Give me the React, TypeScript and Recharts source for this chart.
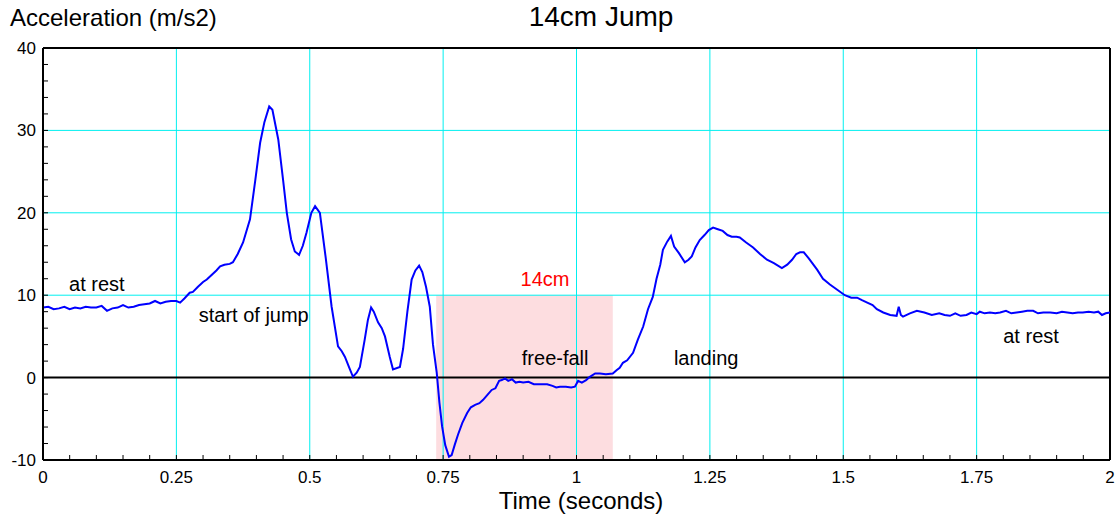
import React from "react";
import {
  LineChart,
  Line,
  XAxis,
  YAxis,
  ReferenceLine,
  ReferenceArea,
  ReferenceDot,
} from "recharts";

// time (s)
const times = [
  0, 0.01, 0.02, 0.03, 0.04, 0.05, 0.06, 0.07, 0.08, 0.09, 0.1, 0.11, 0.12, 0.13, 0.14, 0.15, 0.16, 0.17, 0.18, 0.19,
  0.2, 0.21, 0.22, 0.23, 0.24, 0.25, 0.257, 0.265, 0.275, 0.281, 0.29, 0.3, 0.307, 0.315, 0.325, 0.332, 0.34, 0.35,
  0.356, 0.365, 0.375, 0.388, 0.398, 0.407, 0.415, 0.424, 0.43, 0.441, 0.45, 0.457, 0.465, 0.472, 0.48, 0.487, 0.494,
  0.503, 0.51, 0.519, 0.53, 0.541, 0.553, 0.56, 0.566, 0.574, 0.581, 0.588, 0.594, 0.603, 0.609, 0.615, 0.62, 0.628,
  0.635, 0.641, 0.65, 0.656, 0.669, 0.675, 0.683, 0.691, 0.698, 0.705, 0.711, 0.718, 0.725, 0.731, 0.738, 0.743,
  0.748, 0.754, 0.761, 0.766, 0.772, 0.778, 0.786, 0.795, 0.802, 0.81, 0.818, 0.825, 0.833, 0.841, 0.848, 0.855,
  0.86, 0.866, 0.872, 0.879, 0.886, 0.893, 0.9, 0.91, 0.92, 0.932, 0.945, 0.955, 0.962, 0.969, 0.98, 0.99, 0.997,
  1.003, 1.01, 1.018, 1.025, 1.035, 1.044, 1.055, 1.068, 1.075, 1.081, 1.087, 1.095, 1.106, 1.115, 1.125, 1.134,
  1.143, 1.15, 1.157, 1.162, 1.17, 1.177, 1.183, 1.192, 1.203, 1.21, 1.216, 1.223, 1.231, 1.24, 1.248, 1.256, 1.265,
  1.274, 1.283, 1.291, 1.3, 1.306, 1.318, 1.331, 1.344, 1.357, 1.37, 1.385, 1.395, 1.404, 1.412, 1.419, 1.426, 1.435,
  1.451, 1.462, 1.475, 1.49, 1.503, 1.515, 1.526, 1.535, 1.545, 1.555, 1.563, 1.575, 1.588, 1.6, 1.604, 1.608, 1.612,
  1.625, 1.638, 1.652, 1.666, 1.68, 1.69, 1.7, 1.71, 1.72, 1.731, 1.74, 1.75, 1.756, 1.765, 1.775, 1.785, 1.794,
  1.805, 1.815, 1.825, 1.835, 1.845, 1.856, 1.865, 1.875, 1.888, 1.9, 1.91, 1.92, 1.93, 1.94, 1.949, 1.96, 1.97,
  1.978, 1.985, 1.992, 2.0,
];

// acceleration (m/s2)
const accel = [
  8.5, 8.6, 8.3, 8.4, 8.6, 8.3, 8.5, 8.4, 8.6, 8.5, 8.5, 8.7, 8.1, 8.4, 8.5, 8.8, 8.5, 8.6, 8.8, 8.9,
  9.0, 9.3, 9.0, 9.2, 9.3, 9.3, 9.1, 9.6, 10.3, 10.4, 11.0, 11.6, 11.9, 12.4, 13.0, 13.5, 13.7, 13.8,
  14.0, 15.0, 16.4, 19.2, 24.0, 28.5, 31.0, 32.9, 32.5, 28.9, 24.0, 20.0, 16.8, 15.3, 14.9, 16.0, 17.6,
  20.0, 20.8, 20.0, 14.5, 8.6, 3.8, 3.2, 2.5, 1.2, 0.1, 0.6, 1.3, 4.6, 7.0, 8.5, 8.0, 6.7,
  6.0, 5.0, 2.5, 1.0, 1.3, 3.5, 8.0, 11.9, 13.0, 13.6, 12.8, 11.0, 8.6, 4.0, 0.6, -3.0,
  -5.9, -8.2, -9.6, -9.4, -8.1, -6.9, -5.5, -4.3, -3.6, -3.3, -3.1, -2.7, -2.1, -1.5, -1.3, -0.4,
  -0.3, -0.1, -0.4, -0.2, -0.6, -0.5, -0.6, -0.5, -0.8, -0.8, -0.8, -1.0, -1.2, -1.1, -1.1, -1.2, -1.1,
  -0.4, -0.6, -0.3, 0.1, 0.5, 0.5, 0.4, 0.5, 0.9, 1.2, 1.8, 2.1, 3.0, 4.6, 6.2, 8.3,
  9.8, 12.0, 13.7, 15.5, 16.5, 17.2, 15.9, 15.1, 14.0, 14.3, 14.7, 15.8, 16.7, 17.3, 17.9, 18.2, 18.0,
  17.8, 17.3, 17.1, 17.1, 17.0, 16.4, 15.8, 15.0, 14.3, 13.9, 13.3, 13.7, 14.3, 15.0, 15.2, 15.2, 14.5,
  13.1, 12.0, 11.3, 10.6, 10.0, 9.7, 9.7, 9.4, 9.1, 8.8, 8.3, 7.9, 7.6, 7.5, 8.6, 7.6, 7.4,
  7.8, 8.1, 7.9, 7.6, 7.8, 7.6, 7.5, 7.8, 7.5, 7.6, 7.9, 7.7, 8.0, 7.8, 7.9, 7.8, 7.9,
  8.1, 7.8, 7.9, 8.0, 8.1, 8.1, 7.8, 7.9, 7.9, 7.8, 8.0, 7.9, 7.8, 7.9, 7.9, 8.0, 7.9,
  8.0, 7.6, 7.8, 7.9,
];

const xTicks = [
  0, 0.05, 0.1, 0.15, 0.2, 0.25, 0.3, 0.35, 0.4, 0.45, 0.5, 0.55, 0.6, 0.65, 0.7, 0.75, 0.8, 0.85, 0.9, 0.95, 1,
  1.05, 1.1, 1.15, 1.2, 1.25, 1.3, 1.35, 1.4, 1.45, 1.5, 1.55, 1.6, 1.65, 1.7, 1.75, 1.8, 1.85, 1.9, 1.95, 2,
];
const xLabels = [0, 0.25, 0.5, 0.75, 1, 1.25, 1.5, 1.75, 2];
const yTicks = [
  -10, -8, -6, -4, -2, 0, 2, 4, 6, 8, 10, 12, 14, 16, 18, 20, 22, 24, 26, 28, 30, 32, 34, 36, 38, 40,
];
const yLabels = [-10, 0, 10, 20, 30, 40];
const vGrid = [0.25, 0.5, 0.75, 1, 1.25, 1.5, 1.75];
const hGrid = [10, 20, 30];

// annotation text, placed in data coordinates
const notes = [
  { t: 0.101, a: 11.3, text: "at rest", color: "#000" },
  { t: 0.395, a: 7.6, text: "start of jump", color: "#000" },
  { t: 0.941, a: 12.0, text: "14cm", color: "#ff0000" },
  { t: 0.96, a: 2.4, text: "free-fall", color: "#000" },
  { t: 1.243, a: 2.4, text: "landing", color: "#000" },
  { t: 1.852, a: 5.0, text: "at rest", color: "#000" },
];

const data = times.map((t, i) => ({ t, a: accel[i] }));

const FONT = "'Liberation Sans', Arial, Helvetica, sans-serif";

function XTick({ x, y, payload }: any) {
  const v = payload.value;
  const major = xLabels.some((l) => Math.abs(l - v) < 1e-6);
  return (
    <g>
      <line x1={x} y1={y} x2={x} y2={y - 5} stroke="#000" strokeWidth={1} />
      {major && (
        <text x={x} y={y + 23} textAnchor="middle" fontSize={17} fontFamily={FONT} fill="#000">
          {String(v)}
        </text>
      )}
    </g>
  );
}

function YTick({ x, y, payload }: any) {
  const v = payload.value;
  const major = yLabels.includes(v);
  return (
    <g>
      <line x1={x} y1={y} x2={x + 5} y2={y} stroke="#000" strokeWidth={1} />
      {major && (
        <text x={x - 7} y={y + 6} textAnchor="end" fontSize={17} fontFamily={FONT} fill="#000">
          {String(v)}
        </text>
      )}
    </g>
  );
}

function NoteLabel({ viewBox, text, color }: any) {
  const { x, y } = viewBox;
  return (
    <text x={x} y={y + 7} textAnchor="middle" fontSize={20} fontFamily={FONT} fill={color}>
      {text}
    </text>
  );
}

export default function App() {
  return (
    <div style={{ position: "absolute", left: 0, top: 0, width: 1115, height: 517, background: "#fff" }}>
      <div style={{ position: "absolute", left: 10, top: 4, fontSize: 24, fontFamily: FONT, color: "#000" }}>
        Acceleration (m/s2)
      </div>
      <div
        style={{ position: "absolute", left: 0, width: 1202, top: 1, textAlign: "center", fontSize: 28, fontFamily: FONT }}
      >
        14cm Jump
      </div>
      <div
        style={{
          position: "absolute",
          left: 0,
          width: 1162,
          top: 489,
          lineHeight: "24px",
          textAlign: "center",
          fontSize: 24,
          fontFamily: FONT,
        }}
      >
        Time (seconds)
      </div>
      <LineChart width={1115} height={517} data={data} margin={{ top: 48, right: 5, bottom: 0, left: 0 }}>
        <ReferenceArea x1={0.737} x2={1.068} y1={-10} y2={10} fill="#fddde0" fillOpacity={1} stroke="none" />
        {vGrid.map((v) => (
          <ReferenceLine key={`v${v}`} x={v} stroke="#00f0f0" strokeWidth={1} />
        ))}
        {hGrid.map((v) => (
          <ReferenceLine key={`h${v}`} y={v} stroke="#00f0f0" strokeWidth={1} />
        ))}
        <ReferenceLine y={0} stroke="#000" strokeWidth={2} />
        <ReferenceLine y={40} stroke="#000" strokeWidth={2} />
        <ReferenceLine x={2} stroke="#000" strokeWidth={2} />
        <XAxis
          dataKey="t"
          type="number"
          domain={[0, 2]}
          ticks={xTicks}
          interval={0}
          tickSize={0}
          tickMargin={0}
          tick={<XTick />}
          height={57}
          axisLine={{ stroke: "#000", strokeWidth: 2 }}
          allowDataOverflow
        />
        <YAxis
          type="number"
          domain={[-10, 40]}
          ticks={yTicks}
          interval={0}
          tickSize={0}
          tickMargin={0}
          tick={<YTick />}
          width={43}
          axisLine={{ stroke: "#000", strokeWidth: 2 }}
          allowDataOverflow
        />
        <Line
          dataKey="a"
          type="linear"
          stroke="#0000ff"
          strokeWidth={2}
          dot={false}
          isAnimationActive={false}
        />
        {notes.map((n, i) => (
          <ReferenceDot
            key={i}
            x={n.t}
            y={n.a}
            r={0}
            fill="none"
            stroke="none"
            label={<NoteLabel text={n.text} color={n.color} />}
          />
        ))}
      </LineChart>
    </div>
  );
}
